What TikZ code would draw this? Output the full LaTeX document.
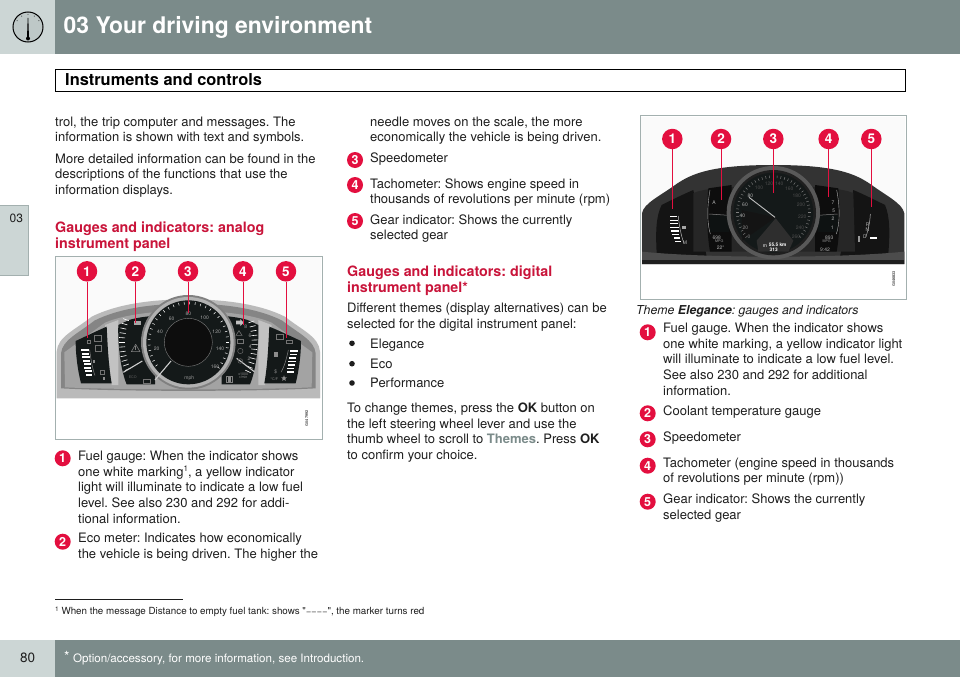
\documentclass[tikz,border=0pt]{standalone}
\usepackage{fontspec}
\usetikzlibrary{shapes.geometric}
\setmainfont{TeX Gyre Heros}
\newfontfamily\fnfont{TeX Gyre Heros}
\frenchspacing
\definecolor{band}{HTML}{7B8B8A}
\definecolor{pale}{HTML}{CCD6D5}
\definecolor{crim}{HTML}{E30F3F}
\definecolor{headred}{HTML}{C9143A}
\definecolor{frameg}{HTML}{A3B0AF}
\definecolor{inkk}{HTML}{1E1E1E}
\definecolor{dialk}{HTML}{141919}
\newcounter{tn}
\newcommand\T[3]{\stepcounter{tn}\node[bodyt] (t\arabic{tn}) at (#1,#2) {#3};}
\newcommand\Hd[3]{\stepcounter{tn}\node[headt] (t\arabic{tn}) at (#1,#2) {#3};}
\newcommand\G[4]{\stepcounter{tn}\node[gtxt,text=#4] (t\arabic{tn}) at (#1,#2) {#3};}
\newcommand\sups[1]{\raisebox{4.2pt}{\fontsize{8}{8}\selectfont #1}}
\newcommand\fd{\makebox[5.4pt]{\fontsize{7.5}{7.5}\selectfont –}}
\tikzset{
 bodyt/.style={anchor=base west,inner sep=0,font=\fontsize{13}{15}\selectfont,text=inkk},
 headt/.style={anchor=base west,inner sep=0,font=\fontsize{14.3}{16}\selectfont\bfseries,text=headred},
 gtxt/.style={inner sep=0,font=\fontsize{5}{5}\selectfont},
 numb/.style={circle,fill=crim,text=white,minimum size=16pt,inner sep=0,font=\fontsize{12.5}{11}\selectfont\bfseries},
 callb/.style={circle,fill=crim,text=white,minimum size=20.5pt,inner sep=0,font=\fontsize{13.5}{14}\selectfont\bfseries},
 callout/.style={draw=crim,line width=0.9pt},
}
\begin{document}
\begin{tikzpicture}[x=1pt,y=-1pt]
\useasboundingbox (0,0) rectangle (960,677);
\fill[white] (0,0) rectangle (960,677);
% header
\fill[band] (55,0) rectangle (960,54.5);
\fill[pale] (0,0) rectangle (55,54.5);
\fill[frameg!70!white] (28,27) circle (15);
\draw[black,line width=1pt] (28,27) circle (15);
\fill[black] (27,38) -- (29,38) -- (28.3,18) -- (27.7,18) -- cycle;
\fill[black] (28,38.5) circle (2);
\foreach \a in {30,60,...,150}{\fill[black] ({28+12.5*cos(\a)},{27-12.5*sin(\a)}) circle (0.45);}
\node[anchor=base west,inner sep=0,text=white,font=\fontsize{22.9}{24}\selectfont\bfseries] (title) at (63.5,34) {03 Your driving environment};
\draw[black,line width=1pt,fill=white] (55.5,69) rectangle (905,91);
\node[anchor=base west,inner sep=0,text=black,font=\fontsize{16.4}{18}\selectfont\bfseries] (sect) at (65,85) {Instruments and controls};
% side tab
\fill[pale] (0,205) rectangle (28,275);
\draw[frameg,line width=0.6pt] (0,205) -- (28,205) -- (28,275) -- (0,275);
\node[anchor=base west,inner sep=0,text=inkk,font=\fontsize{12}{12}\selectfont] (tab) at (9.5,222) {03};
% footer
\fill[band] (55,640) rectangle (960,677);
\fill[pale] (0,640) rectangle (55,677);
\node[anchor=base west,inner sep=0,text=inkk,font=\fontsize{13.5}{14}\selectfont] (pg) at (20,662) {80};
\node[anchor=base west,inner sep=0,text=white,font=\fontsize{11.6}{14}\selectfont] (opt) at (64,662) {\raisebox{1pt}{\fontsize{14}{14}\selectfont *}\hspace{3.5pt}Option/accessory, for more information, see Introduction.};
% footnote
\draw[inkk,line width=0.8pt] (55,599) -- (183,599);
\node[anchor=base west,inner sep=0,text=inkk,font=\fontsize{9.8}{10}\selectfont\fnfont] (fn) at (55,614) {\raisebox{3pt}{\fontsize{6.5}{6.5}\selectfont 1} When the message Distance to empty fuel tank: shows "\fd\fd\fd\fd", the marker turns red};
% column 1
\T{55}{126}{trol, the trip computer and messages. The}
\T{55}{141.5}{information is shown with text and symbols.}
\T{55}{163}{More detailed information can be found in the}
\T{55}{178.5}{descriptions of the functions that use the}
\T{55}{194}{information displays.}
\Hd{55}{232}{Gauges and indicators: analog}
\Hd{55}{248}{instrument panel}
\node[numb] (n1) at (62.7,458.3) {1};
\T{78}{460}{Fuel gauge: When the indicator shows}
\T{78}{476}{one white marking\sups{1}, a yellow indicator}
\T{78}{491.5}{light will illuminate to indicate a low fuel}
\T{78}{507}{level. See also 230 and 292 for addi-}
\T{78}{523}{tional information.}
\node[numb] (n2) at (62.7,541.7) {2};
\T{78}{542.7}{Eco meter: Indicates how economically}
\T{78}{558}{the vehicle is being driven. The higher the}
% column 2
\T{370}{126}{needle moves on the scale, the more}
\T{370}{141.5}{economically the vehicle is being driven.}
\node[numb] (n3) at (355,160) {3};
\T{370}{162}{Speedometer}
\node[numb] (n4) at (355,185) {4};
\T{370}{188}{Tachometer: Shows engine speed in}
\T{370}{203.5}{thousands of revolutions per minute (rpm)}
\node[numb] (n5) at (355,221) {5};
\T{370}{224}{Gear indicator: Shows the currently}
\T{370}{239}{selected gear}
\Hd{347}{276}{Gauges and indicators: digital}
\Hd{347}{292}{instrument panel*}
\T{347}{312}{Different themes (display alternatives) can be}
\T{347}{328}{selected for the digital instrument panel:}
\fill[inkk] (352,343.3) circle (2.8);
\T{370}{348}{Elegance}
\fill[inkk] (352,363.7) circle (2.8);
\T{370}{368}{Eco}
\fill[inkk] (352,383) circle (2.8);
\T{370}{387.5}{Performance}
\T{347}{412}{To change themes, press the \textbf{OK} button on}
\T{347}{428}{the left steering wheel lever and use the}
\T{347}{443.5}{thumb wheel to scroll to \textcolor{band}{\textbf{Themes}}. Press \textbf{OK}}
\T{347}{459}{to confirm your choice.}
% column 3
\node[bodyt,font=\fontsize{12.3}{15}\selectfont\itshape] (cap) at (636,314) {Theme \textbf{Elegance}: gauges and indicators};
\node[numb] (n6) at (647.7,332.3) {1};
\T{663}{332.6}{Fuel gauge. When the indicator shows}
\T{663}{348.2}{one white marking, a yellow indicator light}
\T{663}{363.8}{will illuminate to indicate a low fuel level.}
\T{663}{379.4}{See also 230 and 292 for additional}
\T{663}{395}{information.}
\node[numb] (n7) at (647.7,413.3) {2};
\T{663}{415}{Coolant temperature gauge}
\node[numb] (n8) at (647.7,439.3) {3};
\T{663}{441.5}{Speedometer}
\node[numb] (n9) at (647.7,465.7) {4};
\T{663}{467.3}{Tachometer (engine speed in thousands}
\T{663}{482.8}{of revolutions per minute (rpm))}
\node[numb] (n10) at (647.7,501.7) {5};
\T{663}{503.3}{Gear indicator: Shows the currently}
\T{663}{519}{selected gear}
% ===== analog cluster (zoom coordinates)
\begin{scope}[shift={(55,255)},x=1pt/3,y=-1pt/3]
\fill[white] (0,3) rectangle (801,552);
\fill[black!2] (3,5) rectangle (798,430);
\draw[frameg,line width=0.9pt] (0,3) rectangle (801,552);
% bezel: outer rim, inner band, face
\fill[black!27] (5,430) -- (5,290) .. controls (8,245) and (60,225) .. (110,185) .. controls (190,145) and (300,133) .. (400,133) .. controls (500,133) and (610,145) .. (690,185) .. controls (740,225) and (792,245) .. (795,290) -- (795,430) -- cycle;
\fill[black!48] (18,400) -- (18,295) .. controls (22,255) and (70,235) .. (118,197) .. controls (195,158) and (300,146) .. (400,146) .. controls (500,146) and (605,158) .. (682,197) .. controls (730,235) and (778,255) .. (782,295) -- (782,400) .. controls (600,410) and (200,410) .. (18,400) -- cycle;
\fill[black!36] (30,397) -- (28,292) -- (150,203) .. controls (260,155) and (540,155) .. (650,203) -- (772,292) -- (770,397) .. controls (600,405) and (200,405) .. (30,397) -- cycle;
\fill[black!24] (150,210) -- (190,195) -- (190,390) -- (170,390) -- cycle;
\fill[black!24] (650,210) -- (610,195) -- (610,390) -- (630,390) -- cycle;
% left pod
\fill[dialk] (62,258) .. controls (90,245) and (125,228) .. (155,215) .. controls (158,270) and (160,330) .. (170,385) -- (78,385) .. controls (68,345) and (62,300) .. (62,258) -- cycle;
% right pod
\fill[dialk] (738,258) .. controls (710,245) and (675,228) .. (643,215) .. controls (640,270) and (638,330) .. (628,385) -- (722,385) .. controls (732,345) and (738,300) .. (738,258) -- cycle;
% mid pods
\fill[dialk] (222,195) .. controls (245,188) and (270,185) .. (300,182) -- (300,388) -- (215,388) .. controls (195,340) and (188,260) .. (190,210) -- cycle;
\fill[dialk] (578,195) .. controls (555,188) and (530,185) .. (500,182) -- (500,388) -- (585,388) .. controls (605,340) and (612,260) .. (610,210) -- cycle;
% side scale ticks
\foreach \a in {160,164,...,206}{\draw[white,line width=0.6pt] ({400+190*cos(\a)},{262-190*sin(\a)}) -- ({400+208*cos(\a)},{262-208*sin(\a)});}
\foreach \a in {-26,-22,...,20}{\draw[white,line width=0.6pt] ({400+190*cos(\a)},{262-190*sin(\a)}) -- ({400+208*cos(\a)},{262-208*sin(\a)});}
% ring
\fill[black!50] (400,262) circle (142);
\fill[black!30] (400,262) circle (136);
\fill[dialk] (400,262) circle (126);
\foreach \a in {-40,-32,...,220}{\draw[white,line width=0.5pt] ({400+122*cos(\a)},{262-122*sin(\a)}) -- ({400+114*cos(\a)},{262-114*sin(\a)});}
\draw[black!50,line width=0.4pt,fill=black!95] (400,262) circle (72);
\foreach \l/\x/\y in {20/305/282,40/315/229,60/350/190,80/400/175,100/449/189,120/485/229,140/495/281,160/480/334}{\G{\x}{\y}{\l}{black!35}}
\G{403}{371}{mph}{black!40}
% needles
\draw[black!20,line width=1.1pt] (300,375) -- (348,318);
\draw[black!20,line width=1.1pt] (205,352) -- (262,318);
\draw[black!20,line width=1.1pt] (598,350) -- (545,310);
% right numbers
\foreach \l/\x/\y in {8/572/216,6/585/241,4/586/275,2/582/310}{\G{\x}{\y}{\l}{black!40}}
\node[gtxt,text=black!45,font=\fontsize{3.6}{4}\selectfont] (tacha) at (565,358) {x1000};
\node[gtxt,text=black!45,font=\fontsize{3.6}{4}\selectfont] (tachb) at (565,368) {r/min};
% warning triangle
\draw[black!50,line width=0.6pt,line join=round] (242,268) -- (255,290) -- (229,290) -- cycle;
\draw[black!50,line width=0.6pt] (242,274) -- (242,284);
% icons left mid
\draw[black!55,line width=0.6pt] (265,372) rectangle (285,386);
\node[gtxt,text=black!60,font=\fontsize{3.6}{4}\selectfont] (eco) at (233,368) {ECO};
\draw[black!50,line width=0.6pt] (513,365) rectangle (533,383);
\fill[black!45] (519,367) rectangle (527,381);
% right-mid icons
\draw[black!55,line width=0.6pt] (552,227) -- (561,241) -- (543,241) -- cycle;
\draw[black!55,line width=0.6pt] (547,252) rectangle (565,264);
\draw[black!60,line width=0.5pt] (556,288) circle (8);
\draw[black!60,line width=0.5pt] (556,318) circle (7);
\fill[black!25] (543,197) -- (556,197) -- (556,192) -- (566,203) -- (556,213) -- (556,208) -- (543,208) -- cycle;
\fill[black!35] (238,198) rectangle (258,209);
% fuel bars
\foreach \i/\xa/\xb in {0/78/101,1/80/103,2/82/104,3/84/106,4/86/108,5/88/109,6/90/110,7/94/112}{\fill[white] (\xa,{283+\i*10.5}) rectangle (\xb,{288+\i*10.5});}
\draw[black!50,line width=0.5pt] (104,284) .. controls (107,310) and (112,340) .. (120,362);
\fill[black!45] (113,315) rectangle (121,325);
\draw[black!55,line width=0.6pt] (118,242) rectangle (140,258);
\draw[black!55,line width=0.6pt] (120,272) rectangle (138,288);
\draw[black!55,line width=0.6pt] (97,256) rectangle (107,266);
\draw[black!55,line width=0.6pt] (135,345) rectangle (148,357);
\fill[black!45] (143,367) rectangle (151,376);
% gear bars
\foreach \i/\xa/\xb in {0/706/728,1/704/726,2/702/724,3/700/722,4/698/720,5/697/718,6/695/716}{\fill[white] (\xa,{285+\i*10.5}) rectangle (\xb,{290+\i*10.5});}
\draw[black!50,line width=0.5pt] (700,285) .. controls (695,310) and (688,335) .. (678,352);
\draw[black!55,line width=0.6pt] (663,238) rectangle (685,254);
\draw[black!55,line width=0.6pt] (695,256) rectangle (712,266);
\fill[black!45] (658,290) -- (668,290) -- (668,305) -- (658,305) -- cycle;
\G{662}{350}{\$}{black!45}
\node[gtxt,text=black!45,font=\fontsize{3.6}{4}\selectfont] (temp) at (658,374) {°C/F};
\node[star,star points=5,star point ratio=2.2,fill=black!45,inner sep=0,minimum size=6pt] (st) at (687,370) {};
\node[rotate=90,inner sep=0,text=black!70,font=\fontsize{3.8}{4}\selectfont\bfseries] (code1) at (755,490) {G047992};
% callouts
\node[callb] (a1) at (96,49) {1};
\node[callb] (a2) at (241,49) {2};
\node[callb] (a3) at (399,49) {3};
\node[callb] (a4) at (564,49) {4};
\node[callb] (a5) at (693,49) {5};
\coordinate (e1) at (96,250);
\coordinate (e2) at (241,205);
\coordinate (e3) at (399,175);
\coordinate (e4) at (564,210);
\coordinate (e5) at (693,250);
\foreach \i in {1,...,5}{\draw[callout] (a\i) -- (e\i);}
\end{scope}
% ===== digital cluster
\begin{scope}[shift={(625,110)},x=1pt/3,y=-1pt/3]
\fill[white] (45,17) rectangle (843,568);
\fill[black!2] (48,20) rectangle (840,462);
\draw[frameg,line width=0.9pt] (45,17) rectangle (843,568);
\fill[black!80] (51,462) -- (51,310) .. controls (55,280) and (110,255) .. (150,225) .. controls (200,190) and (260,165) .. (445,165) .. controls (630,165) and (690,190) .. (740,225) .. controls (780,255) and (833,280) .. (838,310) -- (838,462) -- cycle;
\fill[black!92] (95,430) .. controls (92,370) and (92,320) .. (110,285) .. controls (140,270) and (170,255) .. (205,240) -- (245,440) -- cycle;
\fill[black!92] (790,430) .. controls (795,370) and (795,320) .. (780,285) .. controls (750,270) and (720,255) .. (685,240) -- (645,440) -- cycle;
\fill[black!85] (205,250) .. controls (250,220) and (640,220) .. (685,250) -- (690,425) -- (205,425) -- cycle;
\fill[black!95] (250,235) -- (320,225) -- (320,425) -- (255,425) .. controls (245,370) and (245,290) .. (250,235) -- cycle;
\fill[black!95] (640,235) -- (570,225) -- (570,425) -- (635,425) .. controls (645,370) and (645,290) .. (640,235) -- cycle;
\fill[black!70] (51,462) -- (51,425) .. controls (250,445) and (640,445) .. (838,425) -- (838,462) -- cycle;
\fill[black!88] (51,462) -- (51,450) -- (838,450) -- (838,462) -- cycle;
% side gauges colour blocks
\fill[black!30!dialk] (255,315) rectangle (312,365);
\fill[black!30!dialk] (578,315) rectangle (638,365);
\draw[black!50,line width=0.5pt] (252,312) -- (312,316);
\draw[black!50,line width=0.5pt] (578,316) -- (638,312);
\draw[black!30,line width=0.4pt] (255,240) .. controls (246,290) and (246,340) .. (256,372);
\draw[black!30,line width=0.4pt] (635,240) .. controls (645,290) and (645,340) .. (634,372);
% ring
\fill[black!65] (445,308) circle (140);
\fill[black!88] (445,308) circle (128);
\fill[dialk] (445,308) circle (120);
\fill[black!82] (395,392) -- (452,325) -- (505,392) -- (490,425) -- (400,425) -- cycle;
\fill[black!92] (352,392) -- (452,322) -- (350,300) -- cycle;
\foreach \a in {-42,-36,...,222}{\draw[black!50,line width=0.45pt] ({445+112*cos(\a)},{308-112*sin(\a)}) -- ({445+104*cos(\a)},{308-104*sin(\a)});}
\foreach \l/\x/\y/\c in {0/372/381/black!50,20/361/352/black!45,40/352/318/black!30,60/360/284/black!30,80/376/256/black!30,100/402/234/black!70,120/432/221/black!70,140/463/221/black!70,160/493/237/black!70,180/515/256/black!70,200/528/284/black!70,220/532/320/black!70,240/525/353/black!70,260/513/381/black!70}{\G{\x}{\y}{\l}{\c}}
\draw[black!25,line width=0.9pt] (372,262) -- (450,322);
\G{420}{408}{m}{white}
\node[inner sep=0,text=white,font=\fontsize{4.8}{5}\selectfont\bfseries] (dist) at (458,405) {55.5 km};
\node[inner sep=0,text=white,font=\fontsize{4.8}{5}\selectfont\bfseries] (odo) at (446,419) {313};
% left texts
\G{275}{382}{698}{black!30}
\node[gtxt,text=black!40,font=\fontsize{3.6}{4}\selectfont] (mpga) at (283,394) {MPG};
\G{287}{412}{22°}{black!30}
\G{613}{382}{893}{black!30}
\node[gtxt,text=black!40,font=\fontsize{3.6}{4}\selectfont] (mpgb) at (605,394) {MPG};
\G{600}{418}{9:42}{black!30}
\G{624}{278}{7}{black!30}
\G{626}{302}{5}{black!30}
\G{624}{326}{2}{black!30}
\G{622}{352}{1}{black!30}
\G{267}{278}{A}{black!30}
% fuel bars
\foreach \i/\xa/\xb in {0/136/156,1/136/158,2/136/160,3/136/161,4/138/161,5/141/163,6/146/164,7/150/167}{\fill[white] (\xa,{318+\i*10.7}) rectangle (\xb,{322+\i*10.7});}
\draw[black!30,line width=0.5pt] (160,318) .. controls (162,345) and (168,375) .. (176,398);
\fill[black!35] (172,347) rectangle (182,357);
\G{180}{398}{M}{black!30}
% right scale
\draw[black!30,line width=0.5pt] (736,312) .. controls (735,335) and (730,360) .. (722,382);
\G{720}{379}{D}{black!30}
\G{727}{358}{N}{black!30}
\G{728}{345}{R}{black!30}
\fill[white] (735,381) rectangle (755,386);
\fill[black!40] (700,378) rectangle (704,395);
\node[rotate=90,inner sep=0,text=black!70,font=\fontsize{3.8}{4}\selectfont\bfseries] (code2) at (806,507) {G046833};
% callouts
\node[callb] (a6) at (142,87) {1};
\node[callb] (a7) at (288,87) {2};
\node[callb] (a8) at (445,87) {3};
\node[callb] (a9) at (611,87) {4};
\node[callb] (a10) at (739,87) {5};
\coordinate (e6) at (142,296);
\coordinate (e7) at (288,270);
\coordinate (e8) at (445,250);
\coordinate (e9) at (611,262);
\coordinate (e10) at (739,292);
\foreach \i in {6,...,10}{\draw[callout] (a\i) -- (e\i);}
\end{scope}
\end{tikzpicture}
\end{document}
